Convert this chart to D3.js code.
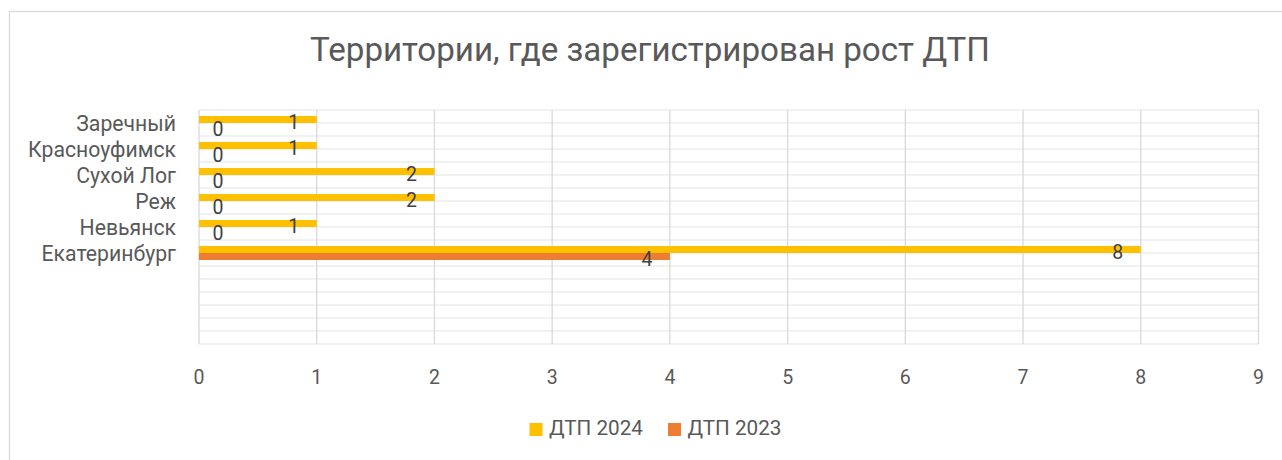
<!DOCTYPE html>
<meta charset="utf-8">
<style>
  body { margin: 0; background: #fff; }
  text { font-family: Roboto, "Open Sans", sans-serif; }
</style>
<svg id="chart" width="1282" height="460"></svg>
<script src="https://cdn.jsdelivr.net/npm/d3@7"></script>
<script>

var title = "Территории, где зарегистрирован рост ДТП";
var categories = ["Заречный", "Красноуфимск", "Сухой Лог", "Реж", "Невьянск", "Екатеринбург"];
var dtp2024 = [1, 1, 2, 2, 1, 8];
var dtp2023 = [0, 0, 0, 0, 0, 4];
var seriesNames = ["ДТП 2024", "ДТП 2023"];
var seriesColors = ["#FFC000", "#ED7D31"];
var xTicks = [0, 1, 2, 3, 4, 5, 6, 7, 8, 9];
var emptyRows = 3;

var svg = d3.select("#chart");
var textColor = "#595959";

// fit text width to the reference by tuning font size
function fit(sel, target) {
	var w = sel.node().getComputedTextLength();
	var fs = parseFloat(sel.attr("font-size"));
	return fs * target / w;
}

// chart frame
svg.append("rect")
	.attr("x", 9.5).attr("y", 11.5)
	.attr("width", 1400).attr("height", 600)
	.attr("fill", "#fff")
	.attr("stroke", "#d9d9d9")
	.attr("stroke-width", 1.3);

var x = d3.scaleLinear()
	.domain([0, 9])
	.range([199, 1258.5]);

var y = d3.scaleBand()
	.domain(d3.range(categories.length + emptyRows))
	.range([110, 344]);

// horizontal gridlines (major + minor)
var hLines = d3.range(0, y.domain().length * 2 + 1).map(function(i){ return 110 + i * y.step() / 2; });
svg.append("g")
	.selectAll("line")
	.data(hLines)
	.enter().append("line")
	.attr("x1", x(0)).attr("x2", x(9))
	.attr("y1", function(d){ return d; })
	.attr("y2", function(d){ return d; })
	.attr("stroke", "#ececec")
	.attr("stroke-width", 1.3);

// vertical gridlines
svg.append("g")
	.selectAll("line")
	.data(xTicks)
	.enter().append("line")
	.attr("x1", function(d){ return x(d); })
	.attr("x2", function(d){ return x(d); })
	.attr("y1", 110).attr("y2", 344)
	.attr("stroke", "#d9d9d9")
	.attr("stroke-width", 1.3);

// x tick labels
svg.append("g")
	.selectAll("text")
	.data(xTicks)
	.enter().append("text")
	.attr("x", function(d){ return x(d); })
	.attr("y", 383.5)
	.attr("text-anchor", "middle")
	.attr("font-size", 19.5)
	.attr("fill", textColor)
	.text(function(d){ return d; });

// category labels
var catG = svg.append("g");
var catLabels = catG.selectAll("text")
	.data(categories)
	.enter().append("text")
	.attr("x", 176)
	.attr("y", function(d, i){ return y(i) + y.step() / 2 + 7.5; })
	.attr("text-anchor", "end")
	.attr("font-size", 20)
	.attr("fill", textColor)
	.text(function(d){ return d; });
var catSize = fit(catLabels.filter(function(d){ return d == "Красноуфимск"; }), 148);
catLabels.attr("font-size", catSize);

// bars
var barH = 7;
var series = [dtp2024, dtp2023];
series.forEach(function(vals, s){
	var g = svg.append("g");
	g.selectAll("rect")
		.data(vals)
		.enter().append("rect")
		.attr("x", x(0))
		.attr("y", function(d, i){ return y(i) + y.step() / 2 - barH + s * barH; })
		.attr("width", function(d){ return x(d) - x(0); })
		.attr("height", barH)
		.attr("fill", seriesColors[s]);

	g.selectAll("text")
		.data(vals)
		.enter().append("text")
		.attr("x", function(d){ return d > 0 ? x(d) - 23 : x(0) + 19; })
		.attr("y", function(d, i){ return y(i) + y.step() / 2 - barH / 2 + s * barH + 9.5; })
		.attr("text-anchor", "middle")
		.attr("font-size", 19.5)
		.attr("fill", "#404040")
		.text(function(d){ return d; });
});

// title
var t = svg.append("text")
	.attr("x", 650)
	.attr("y", 61)
	.attr("text-anchor", "middle")
	.attr("font-size", 28)
	.attr("fill", textColor)
	.text(title);
t.attr("font-size", fit(t, 680));

// legend
var legendX = [529.5, 668];
var legend = svg.append("g")
	.selectAll("g")
	.data(seriesNames)
	.enter().append("g")
	.attr("transform", function(d, i){ return "translate(" + legendX[i] + ",0)"; });
legend.append("rect")
	.attr("x", 0).attr("y", 423)
	.attr("width", 13).attr("height", 13)
	.attr("fill", function(d, i){ return seriesColors[i]; });
var legText = legend.append("text")
	.attr("x", 19.5)
	.attr("y", 435)
	.attr("font-size", 19)
	.attr("fill", textColor)
	.text(function(d){ return d; });
legText.attr("font-size", fit(d3.select(legText.node()), 94));

</script>
